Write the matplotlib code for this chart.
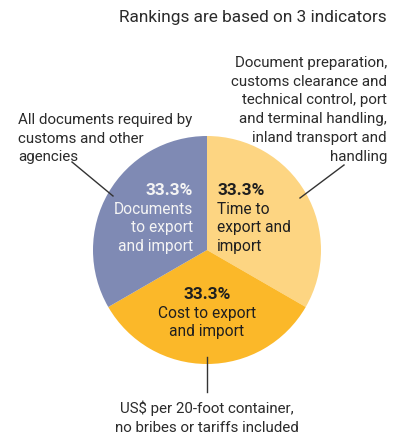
import matplotlib
matplotlib.use("Agg")
import matplotlib.pyplot as plt

# chart data
labels = ["Time to\nexport and\nimport", "Cost to export\nand import", "Documents\nto export\nand import"]
shares = [33.3, 33.3, 33.3]
colors = ["#FDD582", "#FBB829", "#7F8AB4"]
title = "Rankings are based on 3 indicators"
notes = [
    "Document preparation,\ncustoms clearance and\ntechnical control, port\nand terminal handling,\ninland transport and\nhandling",
    "US$ per 20-foot container,\nno bribes or tariffs included",
    "All documents required by\ncustoms and other\nagencies",
]

plt.rcParams['font.family'] = ['Roboto', 'DejaVu Sans']
W, H = 398, 439
fig = plt.figure(figsize=(W / 100, H / 100), dpi=100)
ax = fig.add_axes([0, 0, 1, 1])

def Y(y):
    # image y (from top) to axes y
    return H - y

cx, cy, r = 207, 251, 114
ax.pie(shares, colors=colors, startangle=90, counterclock=False,
       center=(cx, Y(cy)), radius=r, frame=True,
       wedgeprops=dict(edgecolor='none', linewidth=0))
ax.set_xlim(0, W)
ax.set_ylim(0, H)
ax.set_aspect('equal')
ax.axis('off')

dark = '#2b2b2b'
fs = 10.9
step = 18.7

def lines(x, y0, text, ha, color=dark, size=fs, pct=False):
    for i, s in enumerate(text.split('\n')):
        if pct and i == 0:
            ax.text(x, Y(y0 + 5), s, ha=ha, va='baseline', fontsize=12.4,
                    color=color, fontweight='semibold')
        else:
            ax.text(x, Y(y0 + i * step + 5), s, ha=ha, va='baseline', fontsize=size,
                    color=color)

lines(387, 17, title, 'right', size=12.4)

# inside labels
lines(217, 190, f"{shares[0]:.1f}%\n" + labels[0], 'left', color='#1f1f1f', size=11.2, pct=True)
lines(207, 294, f"{shares[1]:.1f}%\n" + labels[1], 'center', color='#1f1f1f', size=11.2, pct=True)
lines(193, 190, f"{shares[2]:.1f}%\n" + labels[2], 'right', color='#f4f4f4', size=11.2, pct=True)

# outside notes
lines(387, 62, notes[0], 'right')
lines(207, 408, notes[1], 'center')
lines(18, 119, notes[2], 'left')

# leader lines
ax.plot([300, 344], [Y(199), Y(166)], color='#333333', lw=1)
ax.plot([113, 72], [Y(197), Y(163)], color='#333333', lw=1)
ax.plot([207, 207], [Y(358), Y(393)], color='#333333', lw=1)

fig.savefig('out.png', dpi=100)
